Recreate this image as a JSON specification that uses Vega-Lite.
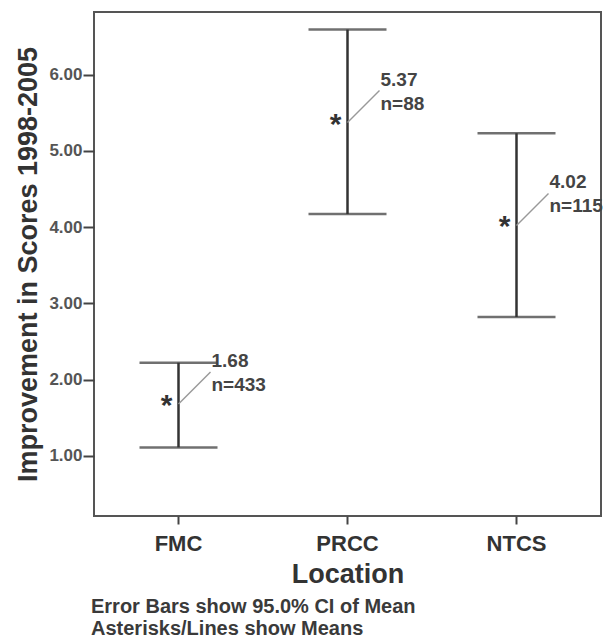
{
  "$schema": "https://vega.github.io/schema/vega-lite/v6.json",
  "width": 507,
  "height": 504,
  "autosize": {"type": "none"},
  "padding": {"left": 94, "top": 12, "right": 9, "bottom": 124},
  "background": "white",
  "config": {
    "font": "Liberation Sans",
    "view": {"stroke": "#555555", "strokeWidth": 2}
  },
  "title": {
    "text": ["Error Bars show 95.0% CI of Mean", "Asterisks/Lines show Means"],
    "orient": "bottom",
    "anchor": "start",
    "frame": "group",
    "font": "Liberation Sans",
    "fontSize": 20,
    "fontWeight": "bold",
    "color": "#3a3a3a",
    "lineHeight": 22,
    "offset": 10,
    "dx": -3
  },
  "data": {
    "values": [
      {"Location": "FMC", "mean": 1.68, "lower": 1.11, "upper": 2.22, "n_label": "n=433"},
      {"Location": "PRCC", "mean": 5.37, "lower": 4.17, "upper": 6.59, "n_label": "n=88"},
      {"Location": "NTCS", "mean": 4.02, "lower": 2.82, "upper": 5.23, "n_label": "n=115"}
    ]
  },
  "encoding": {
    "x": {
      "field": "Location",
      "type": "nominal",
      "sort": ["FMC", "PRCC", "NTCS"],
      "scale": {"paddingInner": 0, "paddingOuter": 0},
      "axis": {
        "title": "Location",
        "labelAngle": 0,
        "tickSize": 8,
        "tickWidth": 2,
        "tickColor": "#444444",
        "domain": false,
        "labelFont": "Liberation Sans",
        "labelFontSize": 22,
        "labelFontWeight": "bold",
        "labelColor": "#333333",
        "labelPadding": 9,
        "titleFont": "Liberation Sans",
        "titleFontSize": 27,
        "titleFontWeight": "bold",
        "titleColor": "#333333",
        "titlePadding": 7
      }
    }
  },
  "layer": [
    {
      "mark": {"type": "rule", "color": "#333333", "strokeWidth": 2.5},
      "encoding": {
        "y": {
          "field": "lower",
          "type": "quantitative",
          "scale": {"domain": [0.21, 6.82], "nice": false, "zero": false},
          "axis": {
            "values": [1, 2, 3, 4, 5, 6],
            "format": ".2f",
            "title": "Improvement in Scores 1998-2005",
            "grid": false,
            "domain": false,
            "tickSize": 11,
            "tickWidth": 2,
            "tickColor": "#444444",
            "labelFont": "Liberation Sans",
            "labelFontSize": 17,
            "labelFontWeight": "bold",
            "labelColor": "#555555",
            "labelPadding": 1,
            "titleFont": "Liberation Sans",
            "titleFontSize": 27,
            "titleFontWeight": "bold",
            "titleColor": "#333333",
            "titlePadding": 6
          }
        },
        "y2": {"field": "upper"}
      }
    },
    {
      "mark": {"type": "tick", "color": "#333333", "size": 78, "thickness": 2.5},
      "encoding": {"y": {"field": "upper", "type": "quantitative"}}
    },
    {
      "mark": {"type": "tick", "color": "#333333", "size": 78, "thickness": 2.5},
      "encoding": {"y": {"field": "lower", "type": "quantitative"}}
    },
    {
      "mark": {"type": "rule", "color": "#999999", "strokeWidth": 1.4, "x2Offset": 32, "y2Offset": -32},
      "encoding": {
        "y": {"field": "mean", "type": "quantitative"},
        "x2": {"field": "Location"},
        "y2": {"field": "mean"}
      }
    },
    {
      "mark": {"type": "text", "align": "center", "baseline": "alphabetic", "dx": -12, "dy": 11, "fontSize": 30, "fontWeight": "bold", "color": "#333333"},
      "encoding": {
        "y": {"field": "mean", "type": "quantitative"},
        "text": {"value": "*"}
      }
    },
    {
      "mark": {"type": "text", "align": "left", "baseline": "alphabetic", "dx": 33, "dy": -37, "fontSize": 19, "fontWeight": "bold", "color": "#444444"},
      "encoding": {
        "y": {"field": "mean", "type": "quantitative"},
        "text": {"field": "mean", "type": "quantitative", "format": ".2f"}
      }
    },
    {
      "mark": {"type": "text", "align": "left", "baseline": "alphabetic", "dx": 33, "dy": -13, "fontSize": 19, "fontWeight": "bold", "color": "#444444"},
      "encoding": {
        "y": {"field": "mean", "type": "quantitative"},
        "text": {"field": "n_label"}
      }
    }
  ]
}
